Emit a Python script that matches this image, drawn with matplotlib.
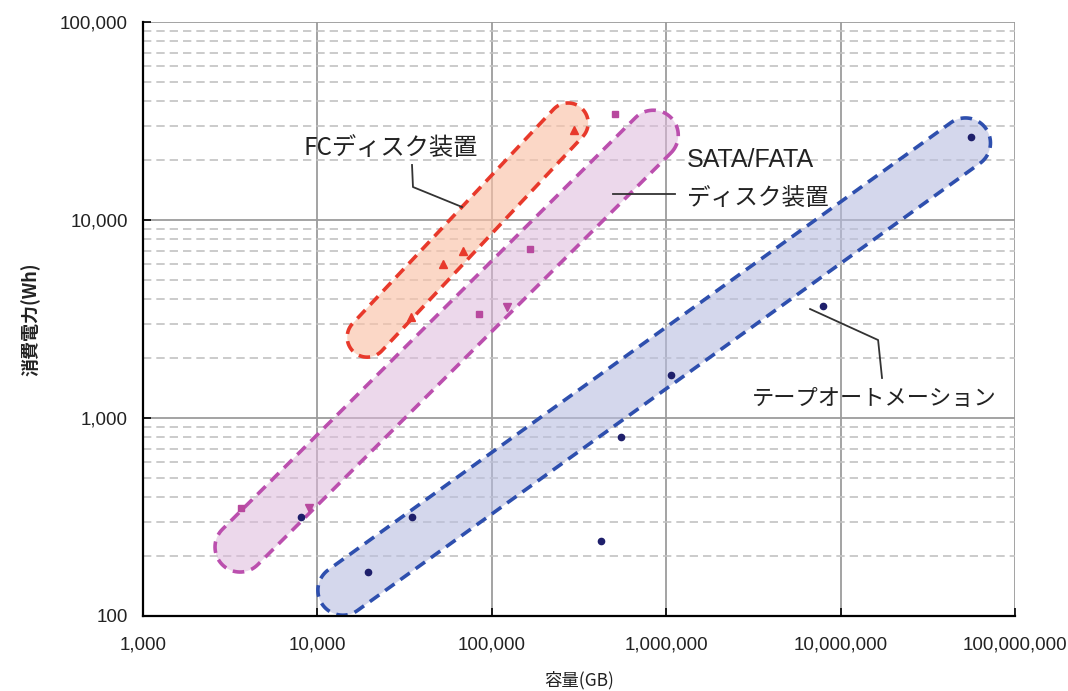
import numpy as np
import matplotlib
matplotlib.use("Agg")
import matplotlib.pyplot as plt
from matplotlib.patches import Polygon
from matplotlib.ticker import LogLocator, FuncFormatter, NullFormatter

plt.rcParams['font.family'] = ['Liberation Sans', 'Noto Sans CJK JP', 'DejaVu Sans']

# ---- data (capacity GB, power Wh) ----
fc_cap = [34500, 52600, 68500, 297000]
fc_pow = [3240, 6000, 6970, 28500]

sata_cap = [3650, 84700, 166000, 510000]
sata_pow = [351, 3350, 7140, 34300]

fata_cap = [8960, 122000]
fata_pow = [351, 3640]

tape_cap = [8050, 19500, 34900, 425000, 552000, 1070000, 7960000, 56200000]
tape_pow = [316, 167, 316, 239, 802, 1650, 3680, 26200]

# capsule (range) end points: (capacity, power)
fc_range = [(19300, 2560), (274000, 30900)]
sata_range = [(3600, 223), (843000, 26800)]
tape_range = [(14000, 135), (52000000, 24500)]

x_ticks = [1e3, 1e4, 1e5, 1e6, 1e7, 1e8]
y_ticks = [1e2, 1e3, 1e4, 1e5]

fc_label = "FCディスク装置"
sata_label1 = "SATA/FATA"
sata_label2 = "ディスク装置"
tape_label = "テープオートメーション"
x_label = "容量(GB)"
y_label = "消費電力(Wh)"

# ---- figure ----
fig = plt.figure(figsize=(10.68, 6.91), dpi=100)
ax = fig.add_axes([143/1068, 1-616/691, (1015-143)/1068, (616-22)/691])
ax.set_xscale('log')
ax.set_yscale('log')
ax.set_xlim(x_ticks[0], x_ticks[-1])
ax.set_ylim(y_ticks[0], y_ticks[-1])

ax.set_xticks(x_ticks)
ax.set_yticks(y_ticks)
fmt = FuncFormatter(lambda v, p: f"{v:,.0f}")
ax.xaxis.set_major_formatter(fmt)
ax.yaxis.set_major_formatter(fmt)
ax.xaxis.set_minor_locator(LogLocator(base=10, subs=[]))
ax.yaxis.set_minor_locator(LogLocator(base=10, subs=np.arange(2, 10)))
ax.xaxis.set_minor_formatter(NullFormatter())
ax.yaxis.set_minor_formatter(NullFormatter())
ax.tick_params(axis='both', which='major', direction='in', length=6, width=1.2,
               labelsize=13.5, colors='black', labelcolor='#222222')
ax.tick_params(axis='x', which='major', pad=15)
ax.tick_params(axis='y', which='major', pad=11)
ax.tick_params(axis='both', which='minor', length=0)

ax.grid(True, which='major', axis='both', color='#9c9c9c', linewidth=1.3, linestyle='-', zorder=0)
ax.grid(True, which='minor', axis='y', color='#c2c2c2', linewidth=1.2, linestyle=(0, (5, 3)), zorder=0)
ax.set_axisbelow(True)

for s in ['top', 'right']:
    ax.spines[s].set_visible(False)
for s in ['left', 'bottom']:
    ax.spines[s].set_color('black')
    ax.spines[s].set_linewidth(1.6)

jp = ['Noto Sans CJK JP', 'DejaVu Sans']
ax.set_xlabel(x_label, fontsize=12.5, family=jp, labelpad=12, color='#222222')
ax.set_ylabel(y_label, fontsize=13, family=jp, fontweight='bold', labelpad=14, color='#222222')


def capsule(p0, p1, r_px, face, edge):
    a = ax.transData.transform(p0)
    b = ax.transData.transform(p1)
    d = b - a
    th = np.arctan2(d[1], d[0])
    t1 = np.linspace(th - np.pi/2, th + np.pi/2, 40)
    t2 = np.linspace(th + np.pi/2, th + 3*np.pi/2, 40)
    pts = np.vstack([
        np.column_stack([b[0] + r_px*np.cos(t1), b[1] + r_px*np.sin(t1)]),
        np.column_stack([a[0] + r_px*np.cos(t2), a[1] + r_px*np.sin(t2)]),
    ])
    data_pts = ax.transData.inverted().transform(pts)
    poly = Polygon(data_pts, closed=True, facecolor=face, edgecolor=edge,
                   linewidth=2.6, linestyle=(0, (3.2, 2.0)), transform=ax.transData, zorder=2)
    ax.add_patch(poly)


capsule(sata_range[0], sata_range[1], 25, (0.87, 0.72, 0.86, 0.55), '#bb4fae')
capsule(fc_range[0], fc_range[1], 20, (0.98, 0.76, 0.66, 0.65), '#e8392b')
capsule(tape_range[0], tape_range[1], 25, (0.72, 0.74, 0.88, 0.6), '#2e4fae')

ax.plot(fc_cap, fc_pow, linestyle='none', marker='^', markersize=6, color='#e8392b', zorder=4)
ax.plot(sata_cap, sata_pow, linestyle='none', marker='s', markersize=5, color='#b8499e', zorder=4)
ax.plot(fata_cap, fata_pow, linestyle='none', marker='v', markersize=6, color='#b8499e', zorder=4)
ax.plot(tape_cap, tape_pow, linestyle='none', marker='o', markersize=4.5, color='#1e1f6b', zorder=4)

ax.text(0.1835, 0.788, fc_label, transform=ax.transAxes, fontsize=17.5, family=jp,
        va='center', ha='left', color='#222222', zorder=5)
ax.text(0.624, 0.7677, sata_label1, transform=ax.transAxes, fontsize=18, family=['Liberation Sans'] + jp,
        va='center', ha='left', color='#222222', zorder=5)
ax.text(0.624, 0.7037, sata_label2, transform=ax.transAxes, fontsize=17, family=jp,
        va='center', ha='left', color='#222222', zorder=5)
ax.text(0.698, 0.367, tape_label, transform=ax.transAxes, fontsize=16, family=jp,
        va='center', ha='left', color='#222222', zorder=5)

lk = dict(transform=ax.transAxes, color='#333333', linewidth=1.3, zorder=5)
ax.plot([0.3085, 0.3096, 0.3658], [0.7593, 0.7222, 0.6886], **lk)
ax.plot([0.539, 0.610], [0.7104, 0.7104], **lk)
ax.plot([0.765, 0.843, 0.8475], [0.5168, 0.4646, 0.4007], **lk)

fig.savefig('out.png', dpi=100)
